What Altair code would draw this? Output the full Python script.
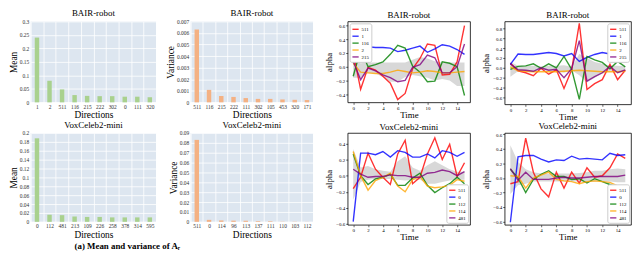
import altair as alt
import pandas as pd

FONT = "Liberation Serif"
BG = "#dde6f0"
GREEN = "#a9d18e"
ORANGE = "#f4b183"
LINE_COLORS = ["#ff0000", "#0000ff", "#008000", "#ffa500", "#800080"]
TIME = list(range(16))

# ---------------- bar panels ----------------
bair_mean_dirs = ["1", "2", "511", "116", "215", "222", "302", "0", "111", "320"]
bair_mean_vals = [0.240, 0.080, 0.048, 0.027, 0.024, 0.023, 0.023, 0.021, 0.021, 0.019]
bair_var_dirs = ["511", "116", "215", "222", "111", "302", "105", "453", "320", "171"]
bair_var_vals = [0.0063, 0.00108, 0.00055, 0.00047, 0.00037, 0.00030, 0.00030, 0.00025, 0.00022, 0.00020]
vox_mean_dirs = ["0", "112", "481", "213", "109", "226", "258", "378", "314", "595"]
vox_mean_vals = [0.188, 0.016, 0.015, 0.012, 0.011, 0.011, 0.010, 0.010, 0.010, 0.010]
vox_var_dirs = ["511", "0", "114", "96", "113", "137", "111", "110", "103", "112"]
vox_var_vals = [0.083, 0.0020, 0.0014, 0.0012, 0.0011, 0.0007, 0.0006, 0.0002, 0.0002, 0.0001]

bair_mean_ticks = [0, 0.05, 0.1, 0.15, 0.2, 0.25, 0.3]
bair_var_ticks = [0, 0.001, 0.002, 0.003, 0.004, 0.005, 0.006, 0.007]
vox_mean_ticks = [0, 0.02, 0.04, 0.06, 0.08, 0.1, 0.12, 0.14, 0.16, 0.18, 0.2]
vox_var_ticks = [0, 0.01, 0.02, 0.03, 0.04, 0.05, 0.06, 0.07, 0.08, 0.09]

# ---------------- line panels ----------------
bair_names = ["511", "1", "116", "2", "215"]
bair1_series = [
    [0.21, -0.33, -0.01, -0.05, -0.14, -0.24, -0.48, -0.39, -0.03, 0.12, 0.33, 0.31, -0.12, -0.11, 0.07, 0.60],
    [0.06, 0.18, 0.29, 0.28, 0.28, 0.27, 0.22, 0.24, 0.27, 0.30, 0.21, 0.26, 0.32, 0.30, 0.25, 0.18],
    [-0.14, 0.25, 0.00, 0.03, 0.07, 0.18, 0.31, 0.27, 0.01, -0.08, -0.22, -0.21, 0.07, 0.05, 0.00, -0.42],
    [0.05, -0.08, -0.09, -0.10, -0.10, -0.08, -0.05, -0.07, -0.09, -0.08, -0.06, -0.07, -0.09, -0.09, -0.08, -0.07],
    [0.08, -0.19, -0.02, -0.06, -0.12, -0.16, -0.22, -0.20, -0.01, 0.03, 0.17, 0.13, -0.09, -0.09, 0.00, 0.33],
]
bair1_lo = [-0.16, -0.16, -0.09, -0.10, -0.15, -0.22, -0.22, -0.15, -0.12, -0.14, -0.16, -0.20, -0.18, -0.20, -0.28, -0.28]
bair1_hi = [0.10, 0.05, 0.06, 0.06, 0.06, 0.06, 0.06, 0.06, 0.10, 0.14, 0.12, 0.08, 0.06, 0.06, 0.06, 0.06]

bair2_series = [
    [0.09, -0.06, -0.10, -0.16, -0.01, -0.13, -0.04, -0.42, -0.04, 0.90, -0.44, -0.32, -0.24, 0.07, -0.24, -0.05],
    [0.07, 0.28, 0.27, 0.27, 0.29, 0.31, 0.29, 0.24, 0.29, 0.13, 0.21, 0.27, 0.31, 0.28, 0.28, 0.27],
    [-0.03, 0.03, 0.04, 0.08, -0.01, 0.08, 0.00, 0.23, -0.03, -0.64, 0.23, 0.16, 0.11, -0.02, 0.13, 0.02],
    [0.02, -0.06, -0.07, -0.08, -0.08, -0.08, -0.08, -0.07, -0.06, -0.05, -0.06, -0.07, -0.08, -0.08, -0.08, -0.07],
    [0.08, -0.04, -0.05, -0.07, 0.00, -0.05, -0.03, -0.20, -0.02, 0.55, -0.27, -0.18, -0.10, 0.03, -0.10, -0.04],
]
bair2_lo = [-0.18, -0.07, -0.06, -0.07, -0.05, -0.06, -0.06, -0.10, -0.05, -0.15, -0.30, -0.20, -0.12, -0.06, -0.08, -0.07]
bair2_hi = [0.12, 0.04, 0.04, 0.04, 0.03, 0.04, 0.04, 0.05, 0.02, 0.28, 0.20, 0.12, 0.08, 0.04, 0.04, 0.03]

vox_names = ["511", "0", "112", "114", "481"]
vox1_series = [
    [-0.16, -0.02, 0.28, 0.08, -0.02, -0.11, 0.27, 0.44, -0.10, -0.02, 0.27, 0.47, 0.20, 0.39, -0.01, 0.16],
    [-0.57, 0.28, 0.28, 0.26, 0.30, 0.23, 0.31, 0.29, 0.23, 0.23, 0.27, 0.22, 0.31, 0.29, 0.24, 0.29],
    [0.27, 0.00, -0.11, -0.04, -0.02, 0.02, -0.12, -0.12, -0.03, 0.03, -0.12, -0.21, -0.15, -0.10, -0.02, -0.10],
    [0.30, 0.00, -0.18, -0.06, -0.02, 0.03, -0.13, -0.20, -0.05, -0.01, -0.13, -0.15, -0.14, -0.12, -0.05, -0.07],
    [0.08, 0.02, -0.02, -0.01, -0.01, 0.01, 0.00, 0.00, -0.02, -0.02, 0.03, 0.04, 0.07, 0.05, 0.00, 0.05],
]
vox1_lo = [-0.30, -0.08, -0.05, -0.04, -0.04, -0.04, -0.05, -0.06, -0.05, -0.05, -0.10, -0.10, -0.08, -0.06, -0.05, -0.05]
vox1_hi = [0.33, 0.10, 0.12, 0.08, 0.06, 0.05, 0.18, 0.24, 0.10, 0.06, 0.13, 0.18, 0.13, 0.08, 0.05, 0.05]

vox2_series = [
    [-0.08, -0.05, 0.55, 0.08, -0.15, -0.26, 0.08, -0.14, 0.08, -0.07, 0.14, 0.01, 0.03, 0.14, 0.33, 0.27],
    [-0.61, 0.29, 0.31, 0.31, 0.26, 0.22, 0.25, 0.24, 0.30, 0.26, 0.27, 0.26, 0.25, 0.34, 0.31, 0.32],
    [0.12, 0.00, -0.20, -0.02, 0.05, 0.10, 0.02, 0.02, -0.02, -0.01, -0.07, -0.01, -0.05, -0.09, -0.13, -0.13],
    [0.03, 0.02, -0.14, 0.00, 0.04, 0.08, -0.02, -0.04, -0.05, -0.08, -0.05, -0.04, -0.05, -0.06, -0.11, -0.11],
    [0.13, -0.03, 0.08, -0.02, -0.02, -0.02, 0.00, 0.01, 0.00, 0.00, 0.01, 0.02, 0.02, 0.02, 0.02, 0.04],
]
vox2_lo = [-0.22, -0.10, -0.08, -0.05, -0.05, -0.05, -0.05, -0.05, -0.05, -0.05, -0.06, -0.05, -0.05, -0.05, -0.06, -0.06]
vox2_hi = [0.45, 0.22, 0.12, 0.08, 0.06, 0.06, 0.06, 0.06, 0.06, 0.07, 0.08, 0.10, 0.10, 0.12, 0.13, 0.12]

time_ticks = [0, 2, 4, 6, 8, 10, 12, 14]


def bar_panel(dirs, vals, title, ytitle, ymax, yticks, color, w, h):
    df = pd.DataFrame({"Directions": dirs, "v": vals})
    common = dict(ticks=False, domain=False, grid=True, gridColor="white", gridWidth=0.8,
                  labelFont=FONT, labelFontSize=5.5, labelColor="#333333", labelPadding=2,
                  titleFont=FONT, titleFontSize=9.5, titleFontWeight="normal", titleColor="black")
    x = alt.X("Directions:N", sort=dirs, scale=alt.Scale(paddingInner=0, paddingOuter=0),
              axis=alt.Axis(title="Directions", labelAngle=0, tickBand="extent", titlePadding=0, **common))
    y = alt.Y("v:Q", scale=alt.Scale(domain=[0, ymax], nice=False),
              axis=alt.Axis(title=ytitle, values=yticks, format="~g", titlePadding=1, **common))
    return alt.Chart(df).mark_bar(size=4.5, color=color).encode(x=x, y=y).properties(
        width=w, height=h,
        title=alt.Title(title, font=FONT, fontSize=9, fontWeight="normal", offset=1, color="black"),
        view=alt.ViewBackground(fill=BG, stroke=None))


def line_panel(names, series, lo, hi, title, ydom, yticks, lorient, w, h):
    rows = []
    for n, vals in zip(names, series):
        for t, v in zip(TIME, vals):
            rows.append({"Time": t, "alpha": v, "dir": n})
    df = pd.DataFrame(rows)
    bdf = pd.DataFrame({"Time": TIME, "lo": lo, "hi": hi})
    xs = alt.Scale(domain=[-0.75, 15.75], nice=False, zero=False)
    ys = alt.Scale(domain=ydom, nice=False, zero=False)
    common = dict(grid=False, domain=False, ticks=True, tickSize=2, tickColor="black", tickWidth=0.6,
                  labelFont=FONT, labelFontSize=5, labelColor="black", labelPadding=1,
                  titleFont=FONT, titleFontSize=9, titleFontWeight="normal", titleColor="black")
    xax = alt.Axis(title="Time", values=time_ticks, format="d", titlePadding=0, **common)
    yax = alt.Axis(title="alpha", values=yticks, format=".1f", titlePadding=2, **common)
    band = alt.Chart(bdf).mark_area(color="#d6d6d6", opacity=0.95).encode(
        x=alt.X("Time:Q", scale=xs, axis=xax),
        y=alt.Y("lo:Q", scale=ys, axis=yax),
        y2="hi:Q")
    lines = alt.Chart(df).mark_line(strokeWidth=1.4, opacity=0.8).encode(
        x=alt.X("Time:Q", scale=xs, axis=xax),
        y=alt.Y("alpha:Q", scale=ys, axis=yax),
        color=alt.Color("dir:N", sort=names, scale=alt.Scale(domain=names, range=LINE_COLORS),
                        legend=alt.Legend(title=None, orient=lorient, offset=2, symbolType="stroke",
                                          symbolSize=40, symbolStrokeWidth=1.4,
                                          labelFont=FONT, labelFontSize=5, labelColor="black",
                                          padding=2, rowPadding=0, labelOffset=2,
                                          fillColor="white", strokeColor="#cccccc", cornerRadius=2)))
    return alt.layer(band, lines).properties(
        width=w, height=h,
        title=alt.Title(title, font=FONT, fontSize=9, fontWeight="normal", offset=1, color="black"),
        view=alt.ViewBackground(fill="white", stroke="black", strokeWidth=0.8))


p1 = bar_panel(bair_mean_dirs, bair_mean_vals, "BAIR-robot", "Mean", 0.3, bair_mean_ticks, GREEN, 127, 82)
p2 = bar_panel(bair_var_dirs, bair_var_vals, "BAIR-robot", "Variance", 0.007, bair_var_ticks, ORANGE, 124, 82)
p3 = bar_panel(vox_mean_dirs, vox_mean_vals, "VoxCeleb2-mini", "Mean", 0.2, vox_mean_ticks, GREEN, 127, 90)
p4 = bar_panel(vox_var_dirs, vox_var_vals, "VoxCeleb2-mini", "Variance", 0.09, vox_var_ticks, ORANGE, 124, 90)

p5 = line_panel(bair_names, bair1_series, bair1_lo, bair1_hi, "BAIR-robot", [-0.52, 0.66],
                [-0.4, -0.2, 0.0, 0.2, 0.4, 0.6], "top-left", 124, 82)
p6 = line_panel(bair_names, bair2_series, bair2_lo, bair2_hi, "BAIR-robot", [-0.74, 0.94],
                [-0.6, -0.4, -0.2, 0.0, 0.2, 0.4, 0.6, 0.8], "top-right", 128, 84)
p7 = line_panel(vox_names, vox1_series, vox1_lo, vox1_hi, "VoxCeleb2-mini", [-0.61, 0.53],
                [-0.6, -0.4, -0.2, 0.0, 0.2, 0.4], "bottom-right", 124, 93)
p8 = line_panel(vox_names, vox2_series, vox2_lo, vox2_hi, "VoxCeleb2-mini", [-0.645, 0.62],
                [-0.6, -0.4, -0.2, 0.0, 0.2, 0.4, 0.6], "bottom-right", 128, 93)

chart = alt.concat(
    p1, p2, p5, p6, p3, p4, p7, p8,
    columns=4, spacing={"row": 29, "column": 35}, bounds="flush"
).resolve_scale(
    x="independent", y="independent", color="independent"
).resolve_legend(color="independent").properties(
    padding=0,
    title=alt.Title("(a) Mean and variance of Aᵣ", orient="bottom", anchor="start", frame="bounds",
                    dx=67, offset=0, font=FONT, fontSize=9, fontWeight="bold", color="black"),
).configure(font=FONT)

chart.save("out.html", embed_options={"renderer": "svg", "actions": False})
